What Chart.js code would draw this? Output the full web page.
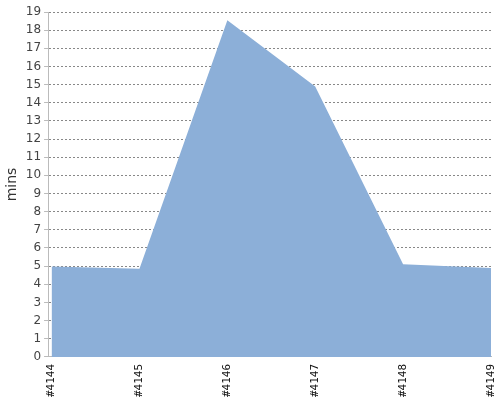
<!DOCTYPE html>
<html><head><meta charset="utf-8">
<script src="https://cdn.jsdelivr.net/npm/chart.js@4"></script>
<style>html,body{margin:0;padding:0;background:#fff}#wrap{width:500px;height:400px}</style>
</head><body><div id="wrap"><canvas id="c"></canvas></div>
<script>
const builds = ['#4144','#4145','#4146','#4147','#4148','#4149'];
const durations = [4.98, 4.85, 18.55, 14.9, 5.1, 4.9];
const yTicks = [0,1,2,3,4,5,6,7,8,9,10,11,12,13,14,15,16,17,18,19];

const pts = durations.map((v,i)=>({x:i,y:v}));
new Chart(document.getElementById('c'), {
  type: 'line',
  data: { datasets: [{
    data: pts,
    fill: 'origin',
    backgroundColor: 'rgb(140,175,216)',
    borderWidth: 0,
    borderColor: 'rgba(0,0,0,0)',
    pointRadius: 0,
    tension: 0
  }]},
  options: {
    responsive: true, maintainAspectRatio: false, animation: false,
    layout: { padding: { top: 12, right: 9, left: 2, bottom: 0 } },
    plugins: { legend: { display: false }, tooltip: { enabled: false } },
    scales: {
      x: {
        type: 'linear', min: -0.04, max: builds.length - 1,
        afterBuildTicks: (s) => { s.ticks = builds.map((b,i)=>({value:i})); },
        afterFit: (s) => { s.paddingRight = 0; s.paddingLeft = 0; },
        ticks: { autoSkip: false, minRotation: 90, maxRotation: 90,
          callback: (v) => builds[v],
          font: { family: 'DejaVu Sans Mono', size: 11 }, color: '#111', padding: 3 },
        grid: { display: false, drawTicks: true, tickLength: 4, tickColor: '#bbb' },
        border: { display: true, color: '#bbb', width: 1 }
      },
      y: {
        min: 0, max: 19, z: 1,
        afterBuildTicks: (s) => { s.ticks = yTicks.map(v=>({value:v})); },
        afterFit: (s) => { s.paddingTop = 0; s.paddingBottom = 0; },
        ticks: { font: { family: 'DejaVu Sans', size: 12 }, color: '#444', padding: 3 },
        grid: { color: '#888', lineWidth: 1, tickLength: 4, tickColor: '#bbb', drawOnChartArea: true },
        border: { display: true, color: '#bbb', dash: [2,2], width: 1 },
        title: { display: true, text: 'mins', font: { family: 'DejaVu Sans', size: 14 }, color: '#333', padding: 2 }
      }
    }
  }
});
</script>
</body></html>
